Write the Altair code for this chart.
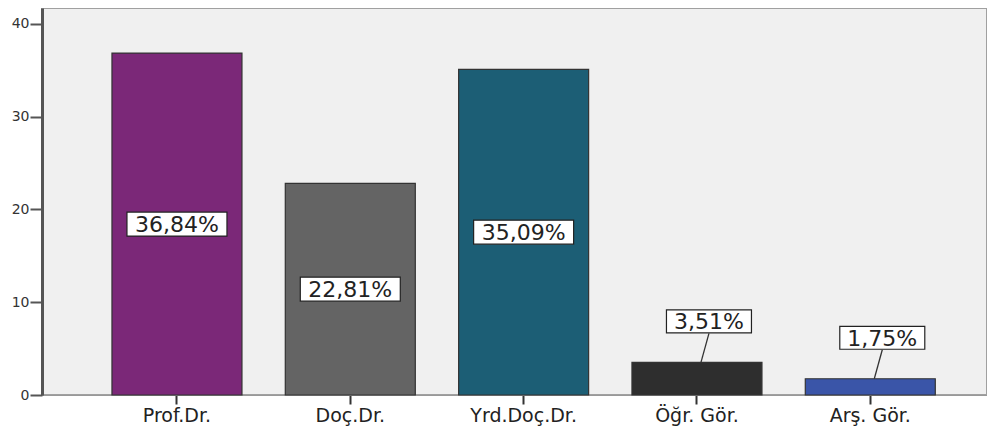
import altair as alt
import pandas as pd

categories = ["Prof.Dr.", "Doç.Dr.", "Yrd.Doç.Dr.", "Öğr. Gör.", "Arş. Gör."]
percents = [36.84, 22.81, 35.09, 3.51, 1.75]
labels = ["36,84%", "22,81%", "35,09%", "3,51%", "1,75%"]
colors = ["#7b2878", "#646464", "#1c5e75", "#2e2e2e", "#3a55a8"]

df = pd.DataFrame({"cat": categories, "value": percents, "label": labels})
df["inside"] = df["value"] > 10
df["mid"] = df["value"] / 2

xs = alt.Scale(domain=categories, paddingInner=0.25, paddingOuter=0.351, align=0.575)
ys = alt.Scale(domain=[0, 41.7], nice=False)

x_axis = alt.Axis(title=None, labelAngle=0, labelFont="DejaVu Sans", labelFontSize=19,
                  labelColor="#222222", domainColor="#999999", domainWidth=1,
                  tickColor="#333333", tickWidth=2, tickSize=9, labelPadding=2, grid=False)
y_axis = alt.Axis(title=None, values=[0, 10, 20, 30, 40], labelFont="DejaVu Sans",
                  labelFontSize=14, labelColor="#333333", domainColor="#555555",
                  domainWidth=3, tickColor="#555555", tickWidth=2, tickSize=12,
                  labelPadding=1, grid=False)

base = alt.Chart(df)

bars = base.mark_bar(stroke="#333333", strokeWidth=1.2).encode(
    x=alt.X("cat:N", scale=xs, axis=x_axis, sort=categories),
    y=alt.Y("value:Q", scale=ys, axis=y_axis),
    color=alt.Color("cat:N", scale=alt.Scale(domain=categories, range=colors), legend=None),
)

inside = base.transform_filter("datum.inside")
outside = base.transform_filter("!datum.inside")

box_in = inside.mark_point(
    shape="M-1,-0.24H1V0.24H-1Z", size=10000, filled=True, fill="white",
    stroke="#222222", strokeWidth=1.2, opacity=1,
).encode(x=alt.X("cat:N", scale=xs, sort=categories), y=alt.Y("mid:Q", scale=ys))
txt_in = inside.mark_text(font="DejaVu Sans", fontSize=22, color="#222222",
                          baseline="middle", dy=1).encode(
    x=alt.X("cat:N", scale=xs, sort=categories), y=alt.Y("mid:Q", scale=ys), text="label:N")

leader = outside.mark_rule(color="#333333", strokeWidth=1.3, xOffset=4, x2Offset=12,
                           y2Offset=-29).encode(
    x=alt.X("cat:N", scale=xs, sort=categories), x2=alt.X2("cat:N"),
    y=alt.Y("value:Q", scale=ys), y2=alt.Y2("value:Q"))
box_out = outside.mark_point(
    shape="M-1,-0.27H1V0.27H-1Z", size=7225, filled=True, fill="white",
    stroke="#222222", strokeWidth=1.2, opacity=1, xOffset=12, yOffset=-41,
).encode(x=alt.X("cat:N", scale=xs, sort=categories), y=alt.Y("value:Q", scale=ys))
txt_out = outside.mark_text(font="DejaVu Sans", fontSize=22, color="#222222",
                            baseline="middle", dy=1, xOffset=12, yOffset=-41).encode(
    x=alt.X("cat:N", scale=xs, sort=categories), y=alt.Y("value:Q", scale=ys), text="label:N")

chart = alt.layer(bars, leader, box_in, txt_in, box_out, txt_out).properties(
    width=945, height=387,
    autosize=alt.AutoSizeParams(type="none"),
    padding={"left": 34, "top": 0, "right": 0, "bottom": 36},
    background="white",
).configure_view(fill="#f0f0f0", stroke="#a0a0a0", strokeWidth=2)

chart.save("out.html", embed_options={"renderer": "svg", "actions": False})
